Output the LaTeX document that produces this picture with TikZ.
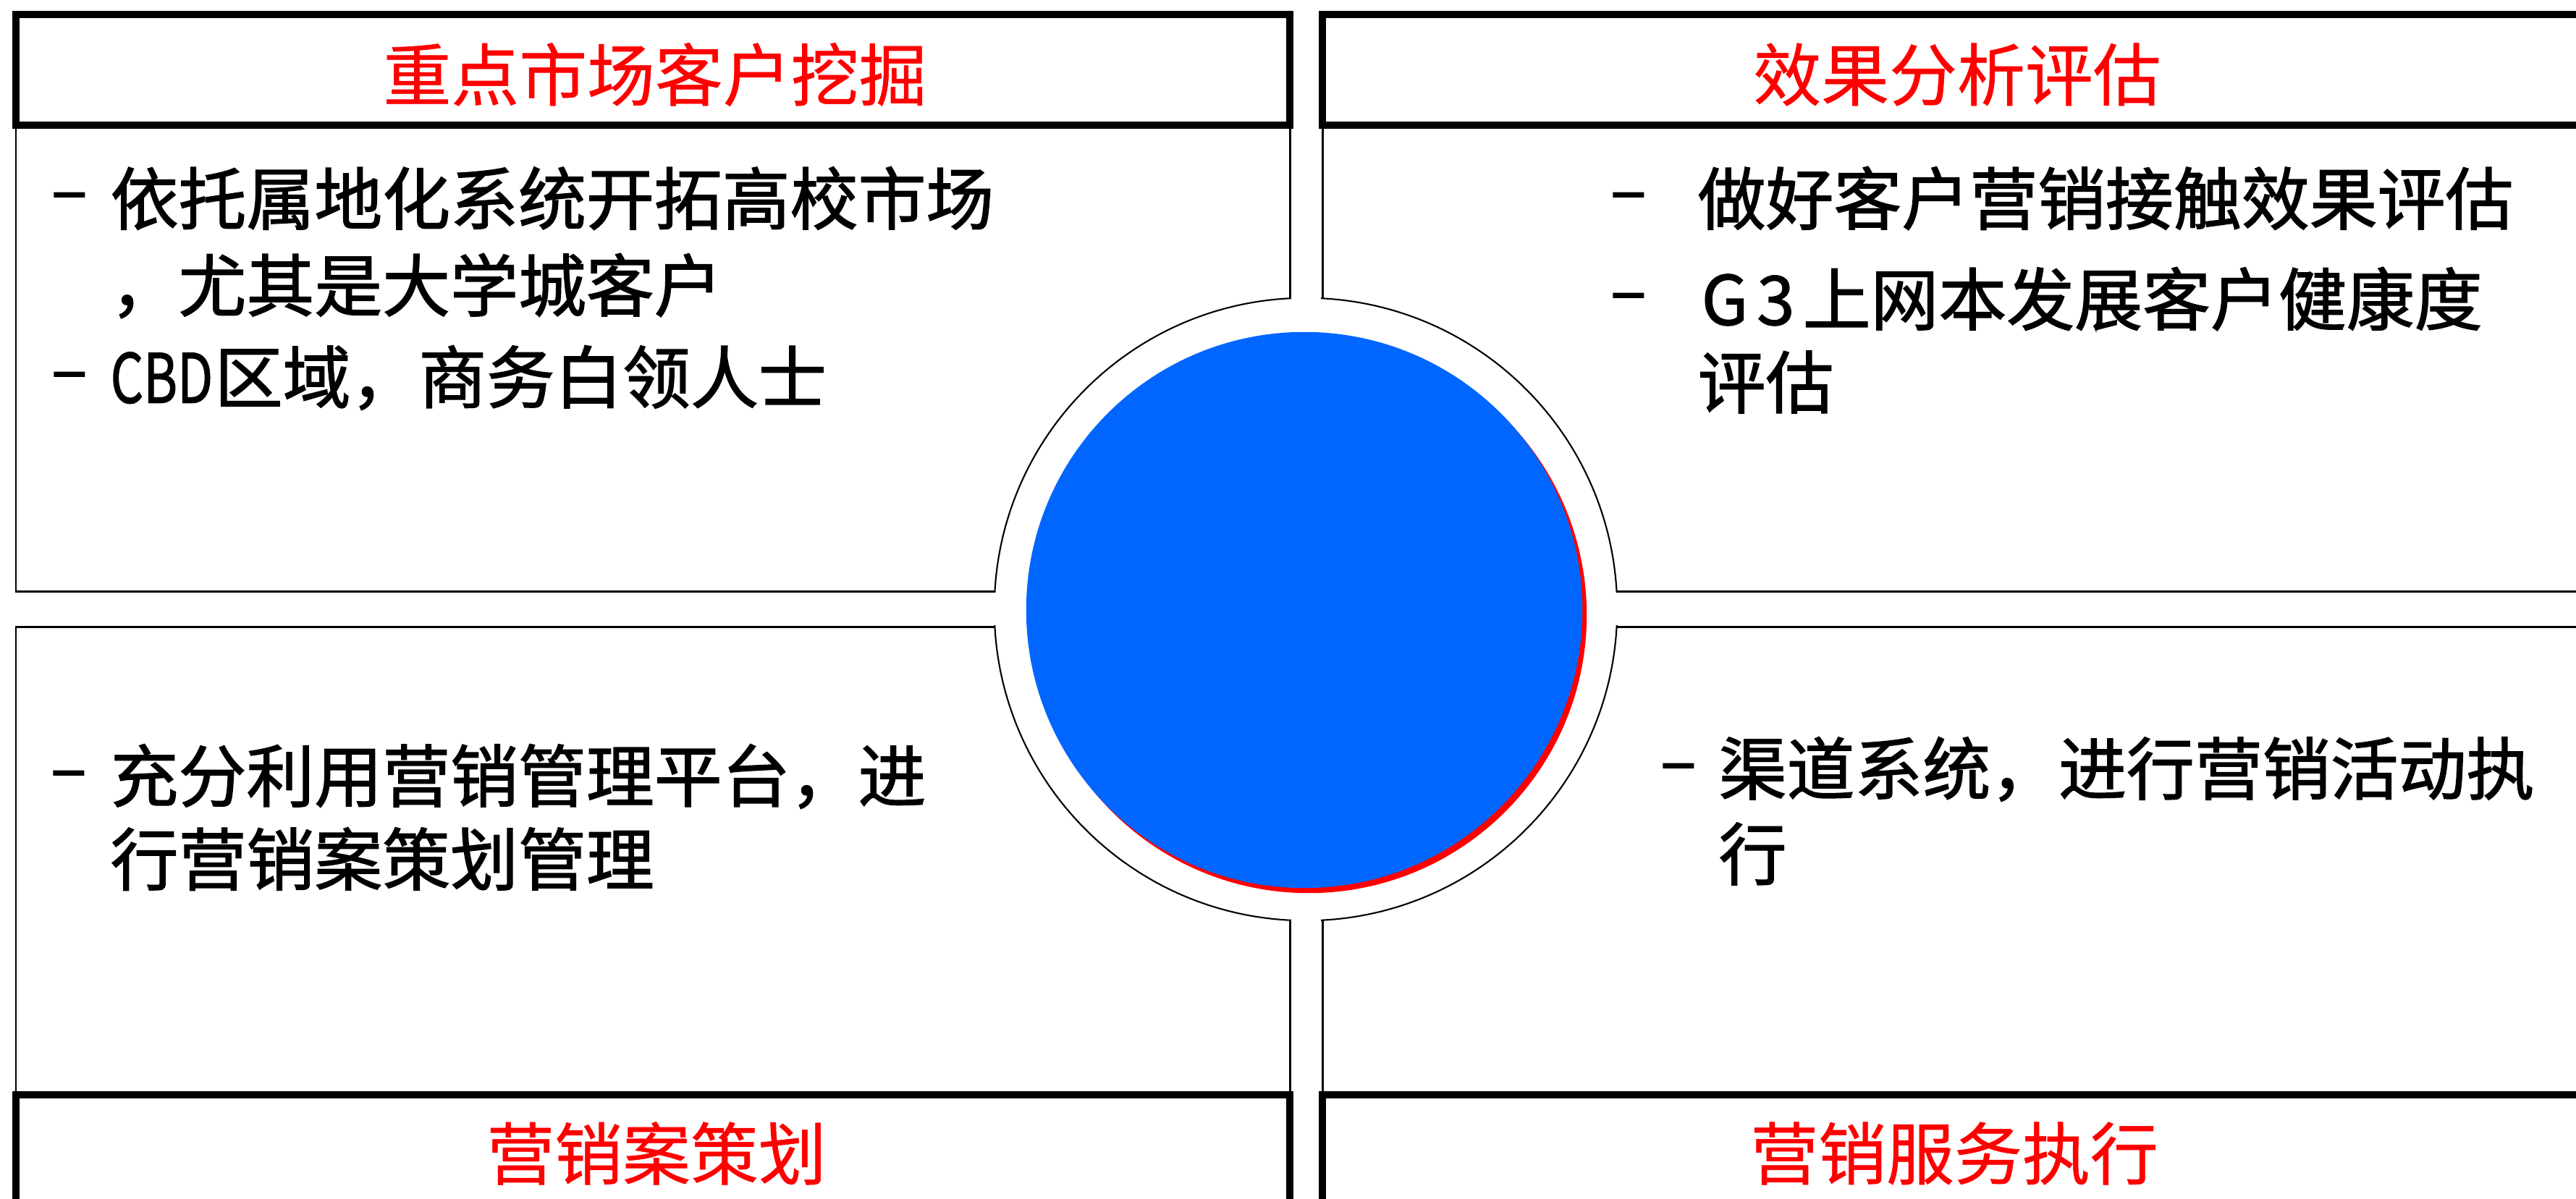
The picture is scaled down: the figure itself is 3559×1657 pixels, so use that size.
\documentclass[tikz,border=0pt]{standalone}
\usepackage{fontspec}
\newfontfamily\cjk{Noto Sans CJK SC}
\newfontfamily\cjkbody[FakeBold=1.5]{Noto Sans CJK SC}
\newfontfamily\cjkhead[FakeBold=0.6]{Noto Sans CJK SC}
\definecolor{ringblue}{RGB}{0,102,255}
\definecolor{hdrred}{RGB}{255,0,0}
\begin{document}
\begin{tikzpicture}[x=0.01cm,y=-0.01cm,
  thickbox/.style={draw=black,line width=2.85pt},
  thinbox/.style={draw=black,line width=0.85pt},
  ringline/.style={draw=black,line width=0.6pt},
  hdr/.style={font=\cjkhead\fontsize{26.7pt}{32pt}\selectfont,text=hdrred,inner sep=0pt},
  bodytxt/.style={font=\cjkbody\fontsize{26.7pt}{32pt}\selectfont,text=black,inner sep=0pt,anchor=west},
  dashmark/.style={font=\cjkbody\fontsize{26.7pt}{32pt}\selectfont,text=black,inner sep=0pt,anchor=west}]
\useasboundingbox (0,0) rectangle (3559,1657);
\clip (0,0) rectangle (3559,1657);
\fill[white] (0,0) rectangle (3559,1657);
% body boxes
\draw[thinbox] (22,173) rectangle (1782,817);
\draw[thinbox] (1827,173) rectangle (3650,817);
\draw[thinbox] (22,866) rectangle (1782,1513);
\draw[thinbox] (1827,866) rectangle (3650,1513);
% ring cut-out
\fill[white] (1804,842) circle[radius=4.3cm];
\draw[ringline] (1804,842) circle[radius=4.3cm];
\fill[white] (1784,175) rectangle (1825,1511);
\fill[white] (-10,819) rectangle (3650,864);
% centre disc
\fill[hdrred] (1808,850) circle[radius=3.84cm];
\fill[ringblue] (1802,843) circle[radius=3.84cm];
% headers
\draw[thickbox] (22,20) rectangle (1782,173);
\draw[thickbox] (1827,20) rectangle (3650,173);
\draw[thickbox] (22,1513) rectangle (1782,1720);
\draw[thickbox] (1827,1513) rectangle (3650,1720);
\node[hdr] (h1) at (905,103) {重点市场客户挖掘};
\node[hdr] (h2) at (2704,103) {效果分析评估};
\node[hdr] (h3) at (907,1594) {营销案策划};
\node[hdr] (h4) at (2700,1594) {营销服务执行};
% top-left text
\node[dashmark] (tld1) at (70,281) {–};
\node[bodytxt] (tl1) at (152,274) {依托属地化系统开拓高校市场};
\node[bodytxt] (tl2) at (152,395) {，尤其是大学城客户};
\node[dashmark] (tld2) at (70,529) {–};
\node[bodytxt] (tl3) at (152,522) {\makebox[1.44cm][l]{\scalebox{0.76}[1]{CBD}}区域，商务白领人士};
% top-right text
\node[dashmark] (trd1) at (2224,281) {–};
\node[bodytxt] (tr1) at (2345,274) {做好客户营销接触效果评估};
\node[dashmark] (trd2) at (2224,420) {–};
\node[bodytxt] (tr2) at (2345,413) {\makebox[1.45cm][l]{\hspace{0.05cm}G\hspace{0.12cm}3}上网本发展客户健康度};
\node[bodytxt] (tr3) at (2345,528) {评估};
% bottom-left text
\node[dashmark] (bld1) at (69,1080) {–};
\node[bodytxt] (bl1) at (152,1073) {充分利用营销管理平台，进};
\node[bodytxt] (bl2) at (152,1187) {行营销案策划管理};
% bottom-right text
\node[dashmark] (brd1) at (2293,1070) {–};
\node[bodytxt] (br1) at (2374,1063) {渠道系统，进行营销活动执};
\node[bodytxt] (br2) at (2374,1180) {行};
\end{tikzpicture}
\end{document}
